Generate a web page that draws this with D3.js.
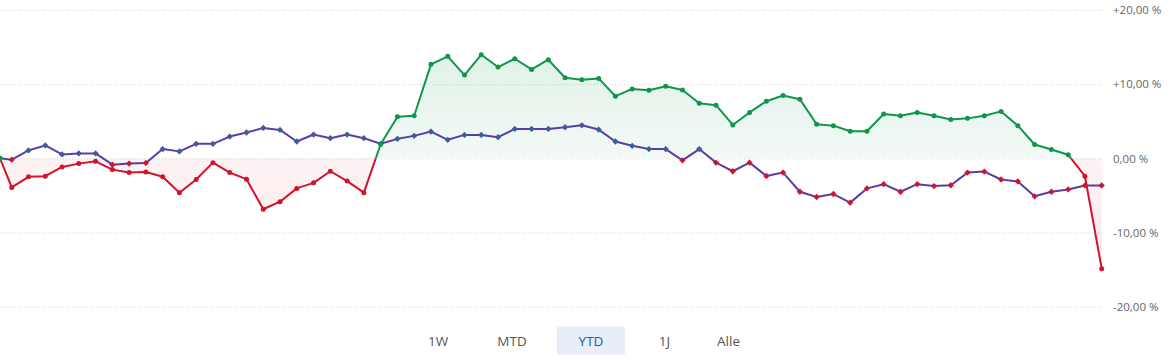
<!DOCTYPE html>
<html>
<head>
<meta charset="utf-8">
<script src="https://cdn.jsdelivr.net/npm/d3@7"></script>
<style>
  html, body { margin: 0; padding: 0; background: #fff; }
  svg { display: block; }
</style>
</head>
<body>
<svg id="chart" width="1170" height="360"></svg>
<script>
// ---- data ----
const fundValues = [
  0, -3.92, -2.49, -2.41, -1.16, -0.71, -0.40, -1.52, -1.92, -1.83,
  -2.49, -4.63, -2.85, -0.58, -1.92, -2.81, -6.86, -5.84, -4.05, -3.30,
  -1.74, -3.07, -4.63, 1.90, 5.61, 5.75, 12.67, 13.75, 11.23, 13.97,
  12.31, 13.43, 11.99, 13.30, 10.87, 10.60, 10.78, 8.38, 9.36, 9.18,
  9.72, 9.22, 7.44, 7.17, 4.50, 6.19, 7.70, 8.47, 7.98, 4.59,
  4.41, 3.65, 3.65, 5.97, 5.75, 6.19, 5.75, 5.23, 5.39, 5.75,
  6.33, 4.41, 1.87, 1.20, 0.49, -2.41, -14.87
];
const benchmarkValues = [
  0, -0.18, 1.07, 1.74, 0.53, 0.67, 0.67, -0.85, -0.71, -0.62,
  1.25, 0.94, 1.96, 1.96, 2.94, 3.48, 4.10, 3.83, 2.27, 3.21,
  2.72, 3.21, 2.72, 1.96, 2.63, 3.03, 3.61, 2.50, 3.16, 3.16,
  2.85, 3.97, 3.97, 3.97, 4.19, 4.45, 3.88, 2.27, 1.69, 1.25,
  1.25, -0.27, 1.25, -0.58, -1.74, -0.58, -2.38, -1.92, -4.50, -5.21,
  -4.81, -5.97, -4.05, -3.48, -4.50, -3.48, -3.74, -3.63, -1.92, -1.78,
  -2.85, -3.12, -5.12, -4.50, -4.19, -3.65, -3.65
];
// session positions: the opening reference point sits a little before the first session
const sessionPositions = [0.3].concat(d3.range(1, fundValues.length));
const yTickValues = [-20, -10, 0, 10, 20];
const rangeButtons = ["1W", "MTD", "YTD", "1J", "Alle"];
const activeRange = "YTD";

// ---- styles ----
const GREEN = "#10964a";
const RED = "#d2132d";
const PURPLE = "#5a3ea8";
const BLUE_MARK = "#3f5b9c";

const svg = d3.select("#chart");
const plot = { left: 0, right: 1103, top: 10, bottom: 306.7 };

const x = d3.scaleLinear()
  .domain([sessionPositions[0], sessionPositions[sessionPositions.length - 1]])
  .range([0, 1101.7]);
const y = d3.scaleLinear().domain([-20, 20]).range([plot.bottom, plot.top]);

const de = d3.formatLocale({ decimal: ",", thousands: ".", grouping: [3], currency: ["", " €"], minus: "-" });
const f2 = de.format(".2f");
const tickFmt = v => (v > 0 ? "+" : "") + f2(v) + " %";

// grid
const yAxis = d3.axisRight(y).tickValues(yTickValues).tickSize(plot.right - plot.left).tickFormat(tickFmt);
const gAxis = svg.append("g").attr("transform", `translate(${plot.left},0)`).call(yAxis);
gAxis.select(".domain").remove();
gAxis.selectAll(".tick line")
  .attr("stroke", "#d6d6d6").attr("stroke-width", 1).attr("stroke-dasharray", "1,2");
gAxis.selectAll(".tick text")
  .attr("x", 1113 - plot.left).attr("dy", "0.32em")
  .attr("fill", "#666").style("font-family", "'Open Sans', sans-serif").style("font-size", "11.5px");

const fund = fundValues.map((v, i) => ({ p: sessionPositions[i], v }));
const bench = benchmarkValues.map((v, i) => ({ p: sessionPositions[i], v }));

const defs = svg.append("defs");
defs.append("clipPath").attr("id", "clipPos").append("rect")
  .attr("x", -10).attr("y", 0).attr("width", 1200).attr("height", y(0));
defs.append("clipPath").attr("id", "clipNeg").append("rect")
  .attr("x", -10).attr("y", y(0)).attr("width", 1200).attr("height", 400);
const gradG = defs.append("linearGradient").attr("id", "gGreen")
  .attr("gradientUnits", "userSpaceOnUse").attr("x1", 0).attr("x2", 0).attr("y1", y(14)).attr("y2", y(0));
gradG.append("stop").attr("offset", 0).attr("stop-color", GREEN).attr("stop-opacity", 0.13);
gradG.append("stop").attr("offset", 1).attr("stop-color", GREEN).attr("stop-opacity", 0.05);
const gradR = defs.append("linearGradient").attr("id", "gRed")
  .attr("gradientUnits", "userSpaceOnUse").attr("x1", 0).attr("x2", 0).attr("y1", y(0)).attr("y2", y(-15));
gradR.append("stop").attr("offset", 0).attr("stop-color", RED).attr("stop-opacity", 0.05);
gradR.append("stop").attr("offset", 1).attr("stop-color", RED).attr("stop-opacity", 0.1);

const area = d3.area().x(d => x(d.p)).y0(y(0)).y1(d => y(d.v));
const line = d3.line().x(d => x(d.p)).y(d => y(d.v));

// fund area
svg.append("path").datum(fund).attr("d", area).attr("fill", "url(#gGreen)").attr("clip-path", "url(#clipPos)");
svg.append("path").datum(fund).attr("d", area).attr("fill", "url(#gRed)").attr("clip-path", "url(#clipNeg)");

// benchmark line
svg.append("path").datum(bench).attr("d", line)
  .attr("fill", "none").attr("stroke", PURPLE).attr("stroke-width", 2).attr("stroke-linejoin", "round");
svg.append("g").selectAll("path").data(bench).join("path")
  .attr("d", d3.symbol(d3.symbolSquare, 20))
  .attr("transform", d => `translate(${x(d.p)},${y(d.v)}) rotate(45)`)
  .attr("fill", d => d.v < 0 ? RED : BLUE_MARK);

// fund line
svg.append("path").datum(fund).attr("d", line).attr("fill", "none").attr("stroke", GREEN)
  .attr("stroke-width", 2).attr("stroke-linejoin", "round").attr("clip-path", "url(#clipPos)");
svg.append("path").datum(fund).attr("d", line).attr("fill", "none").attr("stroke", RED)
  .attr("stroke-width", 2).attr("stroke-linejoin", "round").attr("clip-path", "url(#clipNeg)");
svg.append("g").selectAll("circle").data(fund).join("circle")
  .attr("cx", d => x(d.p)).attr("cy", d => y(d.v)).attr("r", 2.5)
  .attr("fill", d => d.v < 0 ? RED : GREEN);

// range selector buttons
const bx = d3.scaleOrdinal().domain(rangeButtons).range([438, 512, 591, 664.5, 728.5]);
const btn = svg.append("g").selectAll("g").data(rangeButtons).join("g")
  .attr("transform", d => `translate(${bx(d)},341)`);
btn.filter(d => d === activeRange).append("rect")
  .attr("x", -34.2).attr("y", -14.5).attr("width", 68.4).attr("height", 28).attr("rx", 2)
  .attr("fill", "#e6eef8");
btn.append("text").text(d => d)
  .attr("text-anchor", "middle").attr("dy", "0.35em")
  .attr("fill", d => d === activeRange ? "#1d5bb0" : "#555")
  .style("font-family", "'Open Sans', sans-serif").style("font-size", "13.5px");
</script>
</body>
</html>
